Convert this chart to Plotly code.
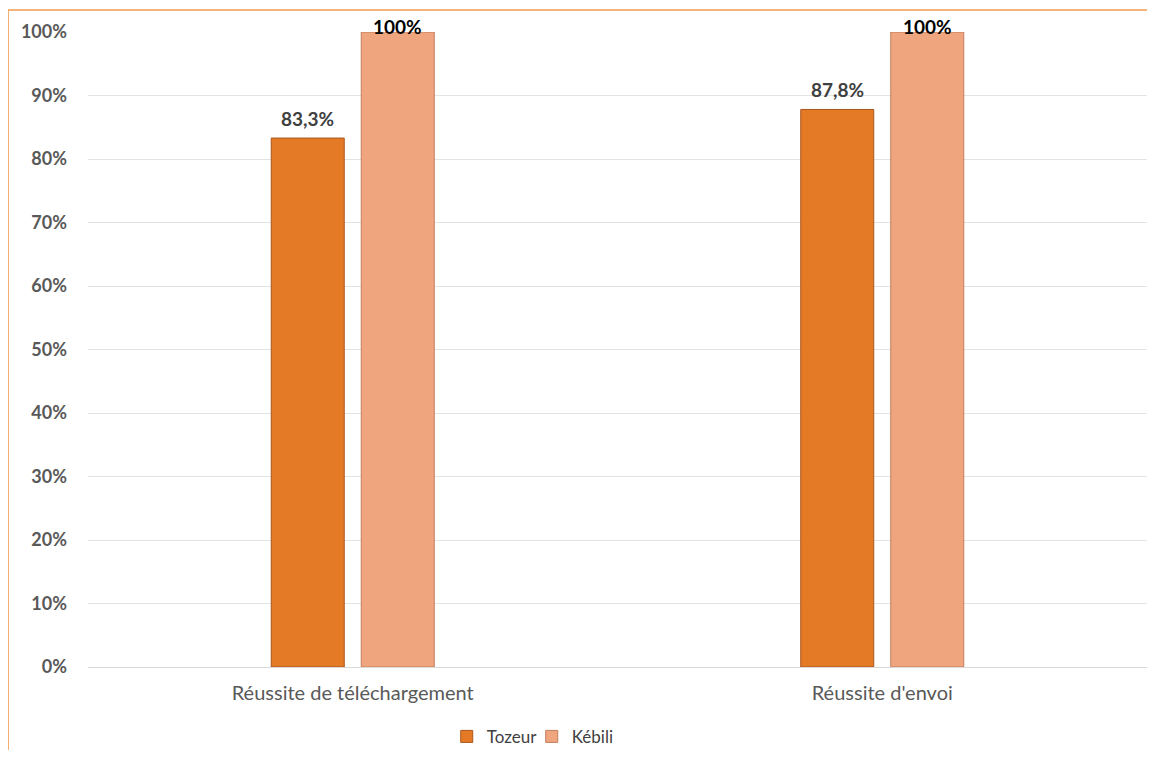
import plotly.graph_objects as go

categories = ["Réussite de téléchargement", "Réussite d'envoi"]
tozeur = [83.3, 87.8]
kebili = [100, 100]
y_ticks = list(range(0, 101, 10))


def fmt(v):
    return (f"{v:.0f}%" if float(v).is_integer() else f"{v:.1f}%").replace(".", ",")


FONT = "Lato"

fig = go.Figure()
fig.add_trace(go.Bar(
    name="Tozeur", x=categories, y=tozeur,
    marker=dict(color="#E47A26", line=dict(color="#A9561C", width=1)),
))
fig.add_trace(go.Bar(
    name="Kébili", x=categories, y=kebili,
    marker=dict(color="#EFA57D", line=dict(color="#C27E5C", width=1)),
))

annotations = []
for vals, shift, color in ((tozeur, -45, "#404040"), (kebili, 45, "#000000")):
    for cat, v in zip(categories, vals):
        annotations.append(dict(
            x=cat, y=v, xref="x", yref="y", xshift=shift,
            yshift=6 if v < 95 else -8, yanchor="bottom", showarrow=False,
            text=fmt(v), font=dict(family=FONT, size=19, color=color, weight="bold"),
        ))

fig.update_layout(
    width=1139, height=742,
    margin=dict(l=80, r=0, t=24, b=83, autoexpand=False),
    paper_bgcolor="white", plot_bgcolor="white",
    barmode="group", bargap=0.66, bargroupgap=0.189,
    font=dict(family=FONT, color="#595959"),
    showlegend=True,
    legend=dict(orientation="h", x=0.419, y=-0.11, xanchor="center", yanchor="middle",
                font=dict(size=17, color="#404040"), itemwidth=30, traceorder="normal",
                entrywidth=40),
    annotations=annotations,
    xaxis=dict(showgrid=False, showline=True, linecolor="#D9D9D9", linewidth=1,
               tickfont=dict(size=20, color="#595959"), ticks="", ticklabelstandoff=8),
    yaxis=dict(range=[0, 100], tickvals=y_ticks, ticktext=[f"{v}%" for v in y_ticks],
               showgrid=True, gridcolor="#E3E3E3", gridwidth=1, zeroline=False,
               showline=False, ticks="",
               tickfont=dict(size=18, color="#595959", weight="bold"), ticklabelstandoff=20),
    shapes=[dict(type="rect", xref="paper", yref="paper",
                 x0=-0.0755, x1=1.05, y0=-0.2, y1=1.0346,
                 line=dict(color="#F29B52", width=1.5), fillcolor="rgba(0,0,0,0)",
                 layer="below")],
)

fig.write_html("out.html")
